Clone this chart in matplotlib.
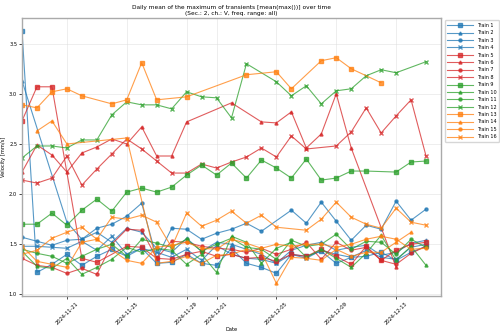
import matplotlib
matplotlib.use("Agg")
import matplotlib.pyplot as plt
import numpy as np
import pandas as pd

nan = np.nan
dates = pd.date_range("2024-11-18", periods=28, freq="D")

train1 = [3.63, 1.22, 1.30, 1.40, 1.29, 1.38, 1.45, 1.38, 1.46, 1.31, 1.32, 1.40, 1.31, 1.29, 1.46, 1.31, 1.27, 1.21, 1.40, 1.38, 1.43, 1.31, 1.37, 1.38, 1.42, 1.34, 1.42, 1.48]
train2 = [3.13, nan, nan, 1.72, 1.55, 1.62, 1.52, 1.66, 1.62, 1.46, 1.42, 1.56, 1.43, 1.52, 1.50, 1.45, 1.40, 1.31, 1.44, 1.49, 1.52, 1.44, 1.47, 1.49, 1.39, 1.42, 1.51, 1.54]
train3 = [1.57, 1.53, 1.49, 1.54, 1.55, 1.66, 1.70, 1.78, 1.91, 1.36, 1.66, 1.65, 1.55, 1.61, 1.65, 1.71, 1.63, nan, 1.84, 1.71, 1.92, 1.73, 1.54, 1.69, 1.65, 1.93, 1.74, 1.85]
train4 = [1.48, 1.48, 1.47, 1.46, 1.53, 1.44, 1.58, 1.40, 1.46, 1.42, 1.37, 1.45, 1.34, 1.49, 1.40, 1.36, 1.35, 1.31, 1.40, 1.36, 1.44, 1.40, 1.37, 1.44, 1.37, 1.35, 1.47, 1.50]
train5 = [2.73, 3.07, 3.07, nan, 1.36, 1.32, nan, 1.48, 1.47, 1.36, 1.35, 1.40, 1.43, 1.38, 1.40, 1.36, 1.37, 1.33, 1.40, 1.38, 1.45, 1.38, 1.30, 1.48, 1.34, 1.44, 1.50, 1.52]
train6 = [2.22, 2.49, 2.39, 2.22, 2.41, 2.47, 2.55, 2.50, 2.67, 2.38, 2.38, 2.72, nan, nan, 2.91, nan, 2.72, 2.71, 2.82, 2.46, 2.60, 3.00, 2.46, nan, nan, 1.27, nan, nan]
train7 = [1.36, 1.29, 1.27, 1.21, 1.26, 1.20, 1.50, 1.65, 1.64, 1.36, 1.53, 1.52, 1.48, 1.46, 1.45, 1.42, 1.46, 1.40, 1.45, 1.52, 1.35, 1.52, 1.44, 1.47, 1.34, 1.30, 1.41, 1.48]
train8 = [2.14, 2.11, 2.16, 2.38, 2.09, 2.25, 2.40, 2.55, 2.45, 2.33, 2.21, 2.21, 2.30, 2.26, 2.32, 2.37, 2.46, 2.37, 2.58, 2.45, nan, 2.48, 2.62, 2.86, 2.61, 2.78, 2.94, 2.38]
train9 = [1.70, 1.70, 1.81, 1.69, 1.84, 1.95, 1.83, 2.02, 2.06, 2.02, 2.07, 2.19, 2.29, 2.19, 2.31, 2.16, 2.34, 2.26, 2.16, 2.35, 2.14, 2.16, 2.23, 2.23, nan, 2.22, 2.32, 2.33]
train10 = [1.43, 1.28, 1.26, 1.36, 1.20, 1.27, 1.35, 1.47, 1.42, 1.46, 1.44, 1.30, 1.40, 1.22, 1.58, 1.52, 1.31, 1.46, 1.52, 1.37, 1.45, 1.36, 1.27, 1.41, 1.59, 1.34, 1.48, 1.29]
train11 = [1.45, 1.41, 1.38, 1.31, 1.38, 1.45, 1.50, 1.38, 1.55, 1.51, 1.47, 1.55, 1.43, 1.50, 1.56, 1.47, 1.45, 1.35, 1.54, 1.48, 1.50, 1.60, 1.45, 1.53, 1.52, 1.40, 1.55, 1.47]
train12 = [2.36, 2.48, 2.48, 2.46, 2.54, 2.54, 2.79, 2.92, 2.89, 2.89, 2.85, 3.02, 2.97, 2.96, 2.76, 3.30, nan, 3.12, 2.98, 3.08, 2.90, 3.03, 3.05, 3.18, 3.24, 3.21, nan, 3.32]
train13 = [2.89, 2.86, 3.02, 3.05, 2.98, nan, 2.90, 2.94, 3.31, 2.94, nan, 2.97, nan, nan, nan, 3.19, nan, 3.22, 3.05, nan, 3.33, 3.36, 3.25, nan, 3.11, nan, nan, nan]
train14 = [nan, 2.63, 2.73, 2.50, nan, nan, nan, 2.56, nan, 1.31, 1.33, 1.38, 1.31, 1.39, 1.40, 1.45, 1.42, 1.11, 1.37, 1.36, 1.34, 1.45, 1.38, 1.42, 1.42, 1.52, 1.62, nan]
train15 = [1.48, 1.33, 1.30, 1.27, 1.52, 1.55, nan, 1.34, 1.31, 1.47, 1.49, 1.52, 1.46, 1.45, 1.55, 1.51, 1.46, 1.50, 1.48, 1.50, 1.50, 1.47, 1.50, 1.55, 1.58, 1.55, 1.45, 1.46]
train16 = [1.40, 1.44, 1.56, 1.62, 1.67, 1.55, 1.77, 1.75, 1.79, 1.72, 1.47, 1.81, 1.68, 1.74, 1.83, 1.71, 1.79, 1.67, nan, 1.64, 1.75, 1.92, 1.77, 1.70, 1.66, 1.86, 1.72, 1.69]

trains = [train1, train2, train3, train4, train5, train6, train7, train8,
          train9, train10, train11, train12, train13, train14, train15, train16]
labels = ["Train %d" % (i + 1) for i in range(16)]

colors = ["tab:blue", "tab:red", "tab:green", "tab:orange"]
markers = ["s", "^", "o", "x"]
msizes = [2.6, 2.2, 2.2, 2.2]

fig = plt.figure(figsize=(5, 3.33), dpi=100)
ax = fig.add_axes([0.044, 0.111, 0.838, 0.835])

for i, y in enumerate(trains):
    y = np.array(y, dtype=float)
    ok = ~np.isnan(y)
    ax.plot(dates[ok], y[ok], color=colors[i // 4], marker=markers[i % 4],
            markersize=msizes[i % 4], linewidth=0.8, alpha=0.75, label=labels[i])

ax.set_xlim(dates[0], pd.Timestamp("2024-12-16"))
ax.set_title("Daily mean of the maximum of transients [mean(max())] over time\n(Sec.: 2, ch.: V, freq. range: all)",
             fontsize=4.2, pad=2.5, linespacing=1.1)
ax.set_xlabel("Date", fontsize=3.7, labelpad=1)
ax.set_ylabel("Velocity [mm/s]", fontsize=3.7, labelpad=2)
ax.tick_params(labelsize=3.7, length=2, width=0.5, pad=1.5)
plt.setp(ax.get_xticklabels(), rotation=45)
ax.grid(True, color="#dddddd", linewidth=0.5, alpha=0.7)
for s in ax.spines.values():
    s.set_color("#aaaaaa")
    s.set_linewidth(1)
ax.legend(loc="upper left", bbox_to_anchor=(1.003, 1.0), fontsize=3.5,
          handlelength=5.3, labelspacing=0.5, borderpad=0.5, handletextpad=0.8,
          frameon=True)

fig.savefig("out.png", dpi=100)
